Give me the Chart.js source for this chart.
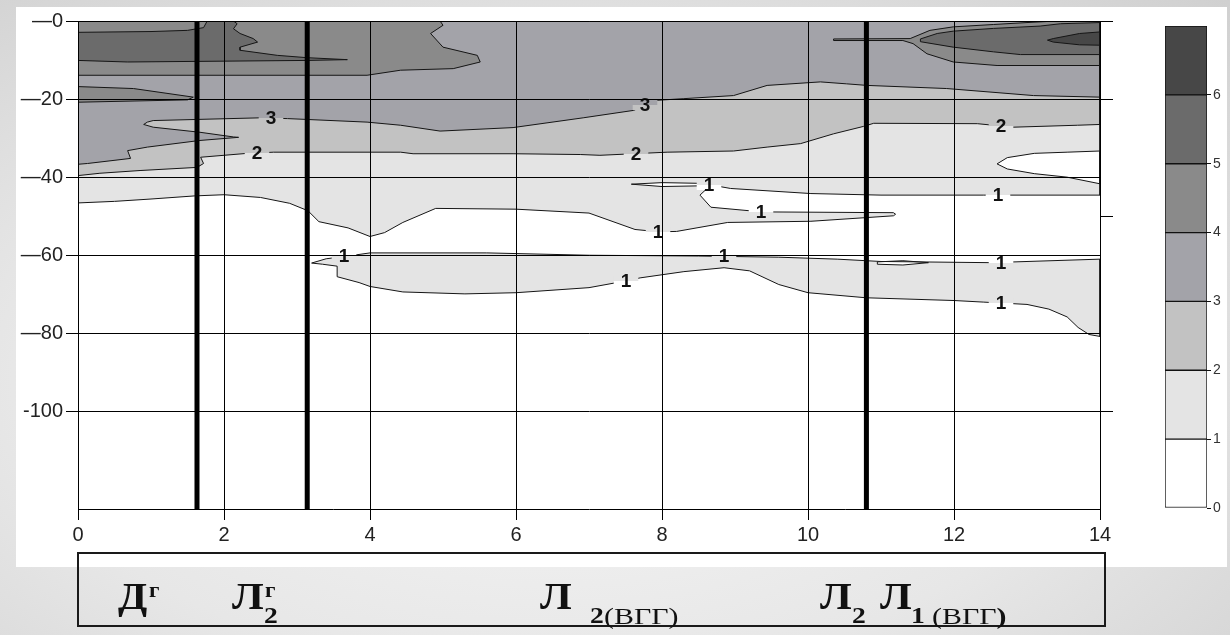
<!DOCTYPE html>
<html>
<head>
<meta charset="utf-8">
<script src="https://cdn.jsdelivr.net/npm/chart.js@4.4.1/dist/chart.umd.min.js"></script>
<style>
  html, body { margin: 0; padding: 0; }
  body {
    width: 1230px; height: 635px; overflow: hidden; position: relative;
    background: radial-gradient(ellipse 80% 85% at 45% 60%, #f7f7f7 0%, #e7e7e7 55%, #cfcfcf 100%);
  }
  #panel { position: absolute; left: 16px; top: 7px; width: 1211px; height: 560px; background: #fff; }
  #plotWrap { position: absolute; left: 0; top: 0; width: 1130px; height: 560px; }
  #barWrap { position: absolute; left: 1140px; top: 0; width: 90px; height: 540px; }
  #strip { position: absolute; left: 77px; top: 552px; width: 1025px; height: 71px; border: 2px solid #1a1a1a; }
  .sym {
    position: absolute; font-family: "Liberation Serif", "Times New Roman", serif;
    font-weight: bold; color: #111; white-space: nowrap; line-height: 1;
    transform: scaleX(1.15); transform-origin: left top;
  }
  .big { font-size: 37px; }
  .sup { font-size: 20px; }
  .sub { font-size: 24px; }
  .note { font-size: 23px; font-weight: normal; transform: scaleX(1.3); }
</style>
</head>
<body>
<div id="panel"></div>
<div id="plotWrap"><canvas id="plot" width="1130" height="560"></canvas></div>
<div id="barWrap"><canvas id="bar" width="90" height="540"></canvas></div>
<div id="strip"></div>

<span class="sym big" style="left:118px;top:578px">Д</span>
<span class="sym sup" style="left:149px;top:580px">г</span>

<span class="sym big" style="left:232px;top:578px">Л</span>
<span class="sym sup" style="left:265px;top:580px">г</span>
<span class="sym sub" style="left:264px;top:603px">2</span>

<span class="sym big" style="left:540px;top:578px">Л</span>
<span class="sym sub" style="left:590px;top:603px">2</span>
<span class="sym note" style="left:604px;top:605px">(ВГГ)</span>

<span class="sym big" style="left:820px;top:578px">Л</span>
<span class="sym sub" style="left:852px;top:603px">2</span>

<span class="sym big" style="left:880px;top:578px">Л</span>
<span class="sym sub" style="left:911px;top:603px">1</span>
<span class="sym note" style="left:932px;top:605px">(ВГГ<b>)</b></span>

<script>
// ---- axes ----
const xTicks = [0, 2, 4, 6, 8, 10, 12, 14];
const yTicks = [0, -20, -40, -60, -80, -100];
const yTickLabels = ['\u20140', '\u201420', '\u201440', '\u201460', '\u201480', '-100'];
const rightTicks = [0, -20, -50, -100];
const xMin = 0, xMax = 14, yMin = -125, yMax = 0;

// ---- well positions (heavy verticals) ----
const wellX = [1.63, 3.14, 10.8];

// ---- isoline areas, [distance, depth]; each area holds values >= its level ----
const level1Area = [
  [0, 0], [14, 0], [14, -44.6], [12.4, -44.6], [11.0, -44.6], [10.04, -44.2], [8.94, -42.9],
  [8.67, -42.0], [8.52, -44.6], [8.67, -47.7], [9.37, -48.9], [11.17, -49.1], [11.2, -49.5],
  [11.17, -49.9], [10.04, -51.3], [8.9, -51.6], [8.2, -53.9], [7.96, -54.0], [7.63, -53.4],
  [7.0, -49.2], [6.0, -48.2], [4.9, -48.0], [4.45, -51.6], [4.2, -54.2], [4.0, -55.2],
  [3.7, -53.0], [3.3, -51.4], [3.15, -48.6], [2.9, -46.7], [2.5, -45.2], [2.0, -44.5],
  [1.6, -44.8], [1.0, -45.6], [0.5, -46.2], [0, -46.6]
];
const level1Band = [
  [3.2, -62.0], [3.4, -60.9], [3.7, -60.2], [4.0, -59.4], [5.6, -59.4], [7.0, -60.0],
  [8.5, -60.2], [9.6, -60.5], [10.4, -61.0], [11.0, -61.6], [12.5, -61.9], [14, -61.0],
  [14, -80.8], [13.85, -80.3], [13.7, -78.5], [13.55, -75.8], [13.3, -73.8], [13.0, -72.6],
  [12.4, -72.0], [12.0, -71.6], [10.8, -70.9], [10.0, -69.6], [9.6, -67.5], [9.2, -64.0],
  [8.85, -63.2], [8.3, -64.2], [7.7, -65.8], [7.5, -66.6], [7.0, -68.3], [6.0, -69.6],
  [5.3, -69.9], [4.45, -69.4], [4.0, -68.0], [3.85, -67.0], [3.55, -65.5], [3.55, -62.8],
  [3.35, -62.3]
];
const whiteIsland = [
  [12.59, -36.6], [12.73, -35.0], [13.1, -33.9], [13.55, -33.6], [14, -33.3],
  [14, -41.7], [13.55, -40.0], [13.1, -39.1], [12.73, -37.9]
];
const whiteSliver = [[7.58, -41.8], [8.0, -41.4], [8.58, -41.6], [8.6, -42.2], [8.0, -42.4]];
const whiteLens = [[10.95, -61.7], [11.3, -61.4], [11.65, -61.9], [11.3, -62.5], [10.95, -62.3]];
const level2Area = [
  [0, 0], [14, 0], [14, -26.5], [13.69, -26.7], [12.81, -27.2], [12.32, -26.3], [10.9, -26.2],
  [10.76, -27.0], [10.35, -28.9], [9.9, -31.4], [9.44, -32.3], [8.98, -33.3], [8.07, -33.6],
  [7.15, -34.4], [6.88, -34.2], [5.96, -34.0], [4.59, -34.0], [4.42, -33.6], [2.68, -33.6],
  [2.32, -33.9], [1.68, -34.9], [1.72, -36.5], [1.63, -37.5], [0.85, -38.3], [0.3, -39.0],
  [0, -39.6]
];
const level3Area = [
  [0, 0], [14, 0], [14, -19.5], [13.09, -19.1], [11.9, -17.3], [10.81, -16.5], [10.53, -16.1],
  [10.17, -15.6], [9.44, -16.5], [8.98, -19.1], [8.29, -19.9], [7.94, -20.3], [7.61, -22.9],
  [6.92, -24.8], [5.96, -27.3], [4.96, -28.2], [4.42, -26.7], [3.96, -25.9], [2.87, -25.0],
  [2.5, -24.8], [1.03, -25.5], [0.95, -25.9], [0.9, -26.5], [1.03, -27.2], [1.67, -28.5],
  [2.13, -29.7], [2.2, -29.8], [1.67, -30.6], [0.95, -32.3], [0.68, -33.2], [0.72, -35.2],
  [0.13, -36.5], [0, -36.7]
];
const level4Left = [
  [0, 0], [4.96, 0], [5.0, -1.1], [4.83, -3.2], [5.0, -6.7], [5.47, -8.8], [5.51, -10.5],
  [5.14, -12.2], [4.42, -12.6], [3.96, -13.9], [0, -13.9]
];
const level4Tongue = [[0, -16.8], [0.76, -17.3], [1.58, -19.5], [1.5, -20.2], [0, -20.8]];
const level4Right = [
  [10.35, -4.6], [11.4, -4.5], [11.67, -2.4], [11.99, -1.5], [12.54, -0.9], [13.0, -0.4],
  [13.4, 0], [14, 0], [14, -11.4], [12.59, -11.4], [11.99, -10.5], [11.63, -8.4],
  [11.44, -5.8], [11.3, -5.0], [10.35, -5.0]
];
const level5Left = [
  [0, -2.9], [1.0, -2.7], [1.5, -2.4], [1.72, -1.7], [1.77, 0], [2.13, 0], [2.18, -0.7],
  [2.13, -2.0], [2.22, -3.2], [2.4, -4.5], [2.46, -5.4], [2.22, -6.7], [2.22, -7.5],
  [2.73, -8.8], [3.14, -9.4], [3.69, -9.9], [3.14, -10.1], [0.68, -10.5], [0, -10.1]
];
const level5Right = [
  [11.54, -4.6], [11.77, -3.2], [11.99, -2.6], [12.54, -1.9], [13.18, -1.3], [13.46, -0.7],
  [14, -0.4], [14, -8.6], [12.91, -8.6], [12.54, -7.9], [11.99, -6.7], [11.54, -5.3]
];
const level6Right = [
  [13.28, -4.9], [13.36, -4.5], [13.72, -3.2], [14, -2.8], [14, -6.2], [13.72, -6.1], [13.36, -5.4]
];

// ---- isoline captions ----
const labelText = ['3', '2', '3', '2', '2', '1', '1', '1', '1', '1', '1', '1', '1', '1'];
const labelX = [2.64, 2.45, 7.77, 7.64, 12.64, 8.65, 9.35, 7.95, 12.6, 3.65, 8.85, 7.5, 12.65, 12.65];
const labelY = [-24.9, -33.8, -21.6, -34.0, -26.9, -41.9, -48.9, -54.0, -44.6, -60.3, -60.3, -66.6, -61.9, -72.2];

// ---- colour scale ----
const legendLevels = [0, 1, 2, 3, 4, 5, 6];
const levelColors = ['#ffffff', '#e4e4e4', '#c2c2c2', '#a3a3a9', '#8a8a8a', '#6b6b6b', '#474747'];

Chart.defaults.font.family = '"Liberation Sans", Arial, sans-serif';
Chart.defaults.color = '#222';

const regionLayers = [
  [level1Area, 1], [level1Band, 1], [whiteIsland, 0], [whiteSliver, 0], [whiteLens, 0],
  [level2Area, 2], [level3Area, 3], [level4Left, 4], [level4Tongue, 4], [level4Right, 4],
  [level5Left, 5], [level5Right, 5], [level6Right, 6]
];
const closedPoints = pts => pts.concat([pts[0]]).map(([x, y]) => ({x, y}));

const datasets = regionLayers.map(([pts, lv], i) => ({
  data: closedPoints(pts),
  fill: 'shape',
  backgroundColor: levelColors[lv],
  borderColor: '#151515',
  borderWidth: 1,
  pointRadius: 0,
  tension: 0,
  order: 100 - i
}));
wellX.forEach(xv => datasets.push({
  data: [{x: xv, y: yMax}, {x: xv, y: yMin}],
  fill: false, borderColor: '#000', borderWidth: 5, pointRadius: 0, order: 0
}));

// read the fill just beside a caption (unpainted canvas counts as white)
function fillAt(ctx, px, py) {
  const d = ctx.getImageData(px, py, 1, 1).data;
  if (d[3] < 128) return '#ffffff';
  return `rgb(${d[0]},${d[1]},${d[2]})`;
}

// captions on the isolines, with a gap cut into the line under each one
const isolineCaptions = {
  id: 'isolineCaptions',
  afterDatasetsDraw(chart) {
    const {ctx, scales: {x, y}} = chart;
    ctx.save();
    ctx.font = 'bold 19px "Liberation Sans", Arial, sans-serif';
    ctx.textAlign = 'center';
    ctx.textBaseline = 'middle';
    labelText.forEach((t, i) => {
      const px = Math.round(x.getPixelForValue(labelX[i]));
      const py = Math.round(y.getPixelForValue(labelY[i]));
      const w = ctx.measureText(t).width + 14;
      const above = fillAt(ctx, px, py - 6);
      const below = fillAt(ctx, px, py + 6);
      ctx.fillStyle = above;
      ctx.fillRect(px - w / 2, py - 5, w, 5);
      ctx.fillStyle = below;
      ctx.fillRect(px - w / 2, py, w, 5);
      ctx.fillStyle = '#111';
      ctx.fillText(t, px, py + 1);
    });
    ctx.restore();
  }
};

new Chart(document.getElementById('plot'), {
  type: 'line',
  data: {datasets},
  plugins: [isolineCaptions],
  options: {
    responsive: false,
    animation: false,
    devicePixelRatio: 1,
    layout: {padding: {left: 0, top: 21, right: 17, bottom: 0}},
    plugins: {
      legend: {display: false},
      tooltip: {enabled: false},
      filler: {drawTime: 'beforeDatasetsDraw'}
    },
    scales: {
      x: {
        type: 'linear', min: xMin, max: xMax,
        afterBuildTicks: s => { s.ticks = xTicks.map(v => ({value: v})); },
        afterFit: s => { s.height = 51; },
        grid: {color: '#000', lineWidth: 1, tickLength: 11, z: 1},
        border: {color: '#000', width: 1, z: 1},
        ticks: {font: {size: 20}, padding: 3, maxRotation: 0, autoSkip: false, color: '#222'}
      },
      y: {
        type: 'linear', min: yMin, max: yMax,
        afterBuildTicks: s => { s.ticks = yTicks.map(v => ({value: v})); },
        afterFit: s => { s.width = 78; },
        grid: {color: '#000', lineWidth: 1, tickLength: 12, z: 1},
        border: {color: '#000', width: 1, z: 1},
        ticks: {
          font: {size: 20}, padding: 3, autoSkip: false, color: '#222',
          callback: v => yTickLabels[yTicks.indexOf(v)]
        }
      },
      y2: {
        type: 'linear', position: 'right', min: yMin, max: yMax,
        afterBuildTicks: s => { s.ticks = rightTicks.map(v => ({value: v})); },
        afterFit: s => { s.width = 13; },
        grid: {drawOnChartArea: false, color: '#000', tickLength: 13},
        border: {display: false},
        ticks: {callback: () => '', padding: 0}
      }
    }
  }
});

// colour scale bar
new Chart(document.getElementById('bar'), {
  type: 'bar',
  data: {
    labels: [''],
    datasets: legendLevels.map(lv => ({
      data: [1],
      backgroundColor: levelColors[lv],
      borderColor: '#111',
      borderWidth: 1,
      borderSkipped: false,
      barPercentage: 1,
      categoryPercentage: 1
    }))
  },
  options: {
    responsive: false,
    animation: false,
    devicePixelRatio: 1,
    layout: {padding: {left: 25, top: 26, right: 0, bottom: 32}},
    plugins: {legend: {display: false}, tooltip: {enabled: false}},
    scales: {
      x: {stacked: true, display: false},
      y: {
        stacked: true, position: 'right', min: 0, max: 7,
        afterBuildTicks: s => { s.ticks = legendLevels.map(v => ({value: v})); },
        afterFit: s => { s.width = 23; },
        grid: {drawOnChartArea: false, color: '#111', tickLength: 4},
        border: {display: false},
        ticks: {padding: 2, color: '#333', font: {size: 14}}
      }
    }
  }
});
</script>
</body>
</html>
